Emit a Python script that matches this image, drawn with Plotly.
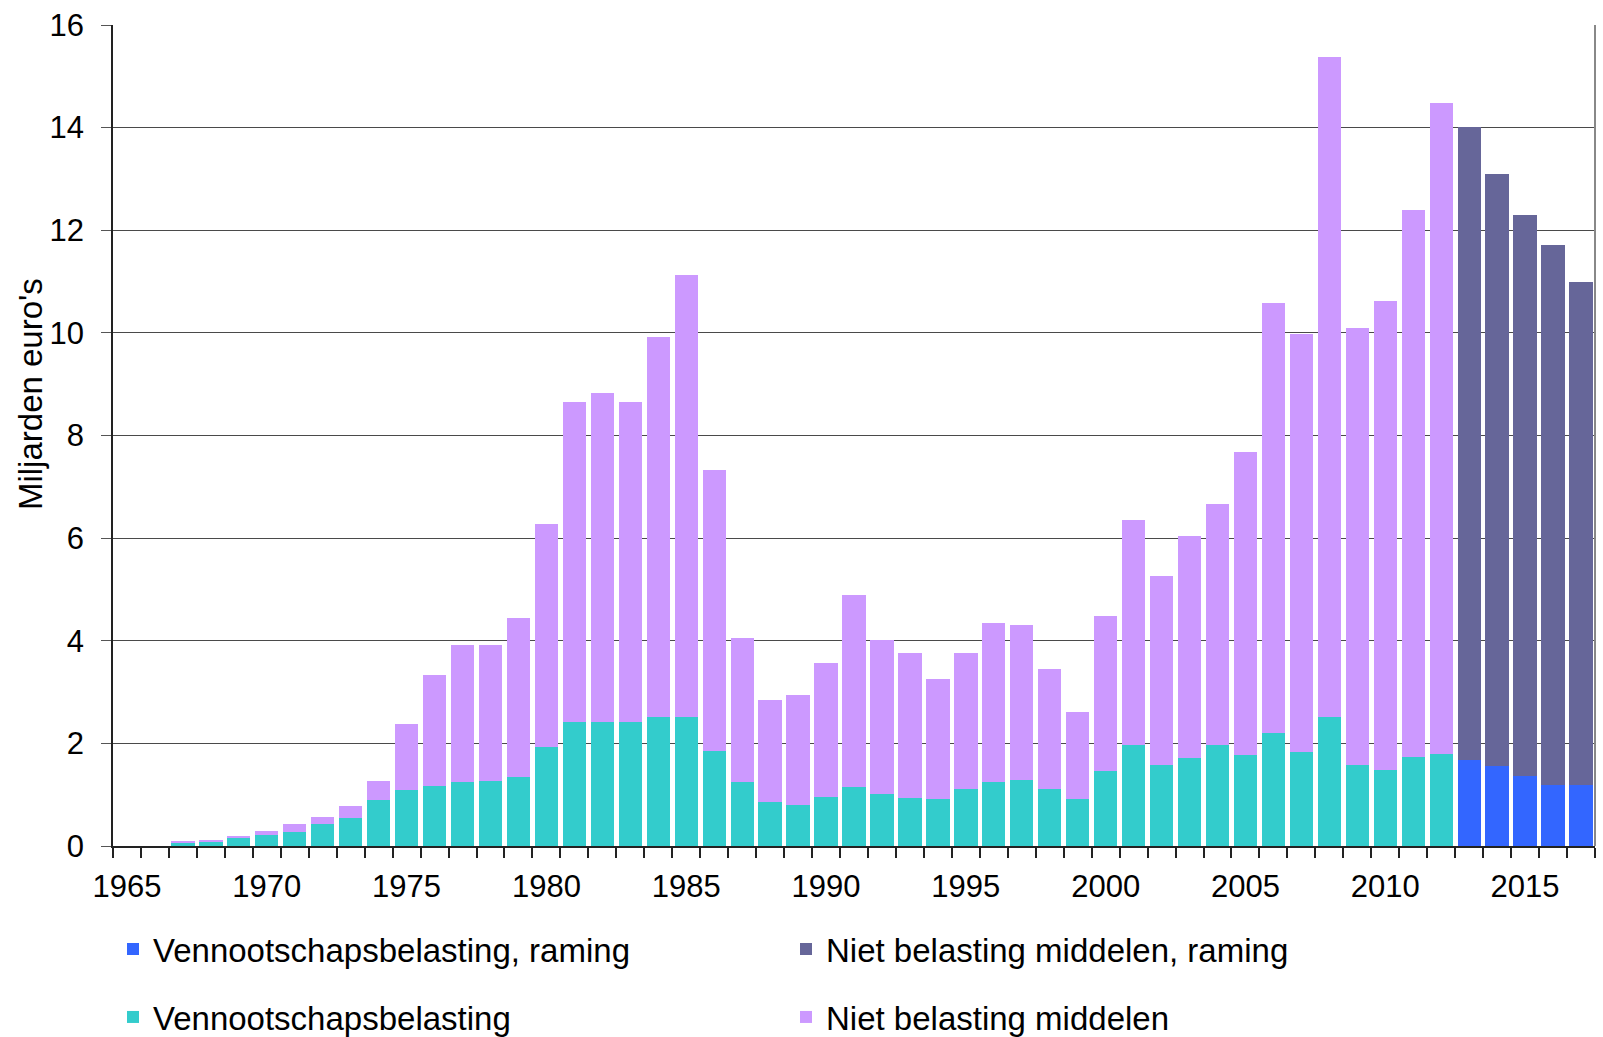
import plotly.graph_objects as go

# Jaren en bedragen (miljarden euro's)
years_real = list(range(1965, 2013))
years_raming = list(range(2013, 2018))

vpb_real = [0.00, 0.00, 0.07, 0.09, 0.15, 0.21, 0.28, 0.43, 0.54, 0.90,
            1.10, 1.17, 1.25, 1.27, 1.35, 1.92, 2.42, 2.42, 2.42, 2.52,
            2.52, 1.85, 1.25, 0.85, 0.80, 0.95, 1.15, 1.02, 0.93, 0.92,
            1.12, 1.25, 1.28, 1.12, 0.92, 1.47, 1.97, 1.58, 1.72, 1.97,
            1.78, 2.20, 1.84, 2.52, 1.58, 1.48, 1.74, 1.80]
nbm_real = [0.00, 0.00, 0.03, 0.03, 0.05, 0.08, 0.15, 0.14, 0.23, 0.37,
            1.27, 2.17, 2.67, 2.65, 3.10, 4.36, 6.23, 6.40, 6.23, 7.40,
            8.60, 5.47, 2.80, 2.00, 2.15, 2.62, 3.74, 3.00, 2.84, 2.33,
            2.65, 3.10, 3.02, 2.33, 1.70, 3.01, 4.38, 3.69, 4.33, 4.70,
            5.90, 8.38, 8.13, 12.85, 8.52, 9.15, 10.65, 12.68]

vpb_raming = [1.67, 1.56, 1.36, 1.19, 1.19]
nbm_raming = [12.35, 11.54, 10.94, 10.52, 9.81]

label_years = [1965, 1970, 1975, 1980, 1985, 1990, 1995, 2000, 2005, 2010, 2015]
y_ticks = [0, 2, 4, 6, 8, 10, 12, 14, 16]

C_VPB = "#33CCCC"
C_NBM = "#CC99FF"
C_VPB_R = "#3366FF"
C_NBM_R = "#666699"

FONT = "Liberation Sans, Arial, sans-serif"

fig = go.Figure()
fig.add_bar(x=years_raming, y=vpb_raming, name="Vennootschapsbelasting, raming",
            marker_color=C_VPB_R, marker_line_width=0, legend="legend")
fig.add_bar(x=years_raming, y=nbm_raming, name="Niet belasting middelen, raming",
            marker_color=C_NBM_R, marker_line_width=0, legend="legend")
fig.add_bar(x=years_real, y=vpb_real, name="Vennootschapsbelasting",
            marker_color=C_VPB, marker_line_width=0, legend="legend2")
fig.add_bar(x=years_real, y=nbm_real, name="Niet belasting middelen",
            marker_color=C_NBM, marker_line_width=0, legend="legend2")

legend_common = dict(
    orientation="h", xanchor="left", yanchor="middle", x=0,
    entrywidth=628, entrywidthmode="pixels",
    font=dict(family=FONT, size=33, color="#000"),
    bgcolor="rgba(0,0,0,0)", borderwidth=0,
    traceorder="normal",
)

fig.update_layout(
    width=1603, height=1037,
    margin=dict(l=113, r=8, t=25, b=191, autoexpand=False),
    paper_bgcolor="white", plot_bgcolor="white",
    barmode="stack", bargap=0.167,
    font=dict(family=FONT, size=31, color="#000"),
    legend=dict(**legend_common, y=-0.1255),
    legend2=dict(**legend_common, y=-0.2083),
    xaxis=dict(
        range=[1964.5, 2017.5],
        tickvals=label_years, ticktext=[str(v) for v in label_years],
        ticks="", ticklabelstandoff=12,
        showline=True, linecolor="#222", linewidth=1.5,
        showgrid=False, zeroline=False,
        tickfont=dict(family=FONT, size=31, color="#000"),
        minor=dict(tick0=1964.5, dtick=1, ticks="outside", ticklen=10,
                   tickcolor="#222", tickwidth=1.5, showgrid=False),
    ),
    yaxis=dict(
        range=[0, 16], tickvals=y_ticks,
        ticks="outside", ticklen=10, tickcolor="#555", tickwidth=1,
        ticklabelstandoff=11,
        showline=True, linecolor="#222", linewidth=1.5,
        showgrid=True, gridcolor="#4a4a4a", gridwidth=1.3,
        zeroline=False,
        tickfont=dict(family=FONT, size=31, color="#000"),
    ),
    annotations=[dict(
        text="Miljarden euro's", textangle=-90,
        xref="paper", yref="paper", x=-0.056, y=0.5505,
        xanchor="center", yanchor="middle", showarrow=False,
        font=dict(family=FONT, size=33, color="#000"),
    )],
    shapes=[dict(type="line", xref="paper", yref="paper", x0=1, x1=1, y0=0, y1=1,
                 line=dict(color="#888", width=2))],
    showlegend=True,
)

fig.write_html("out.html")
